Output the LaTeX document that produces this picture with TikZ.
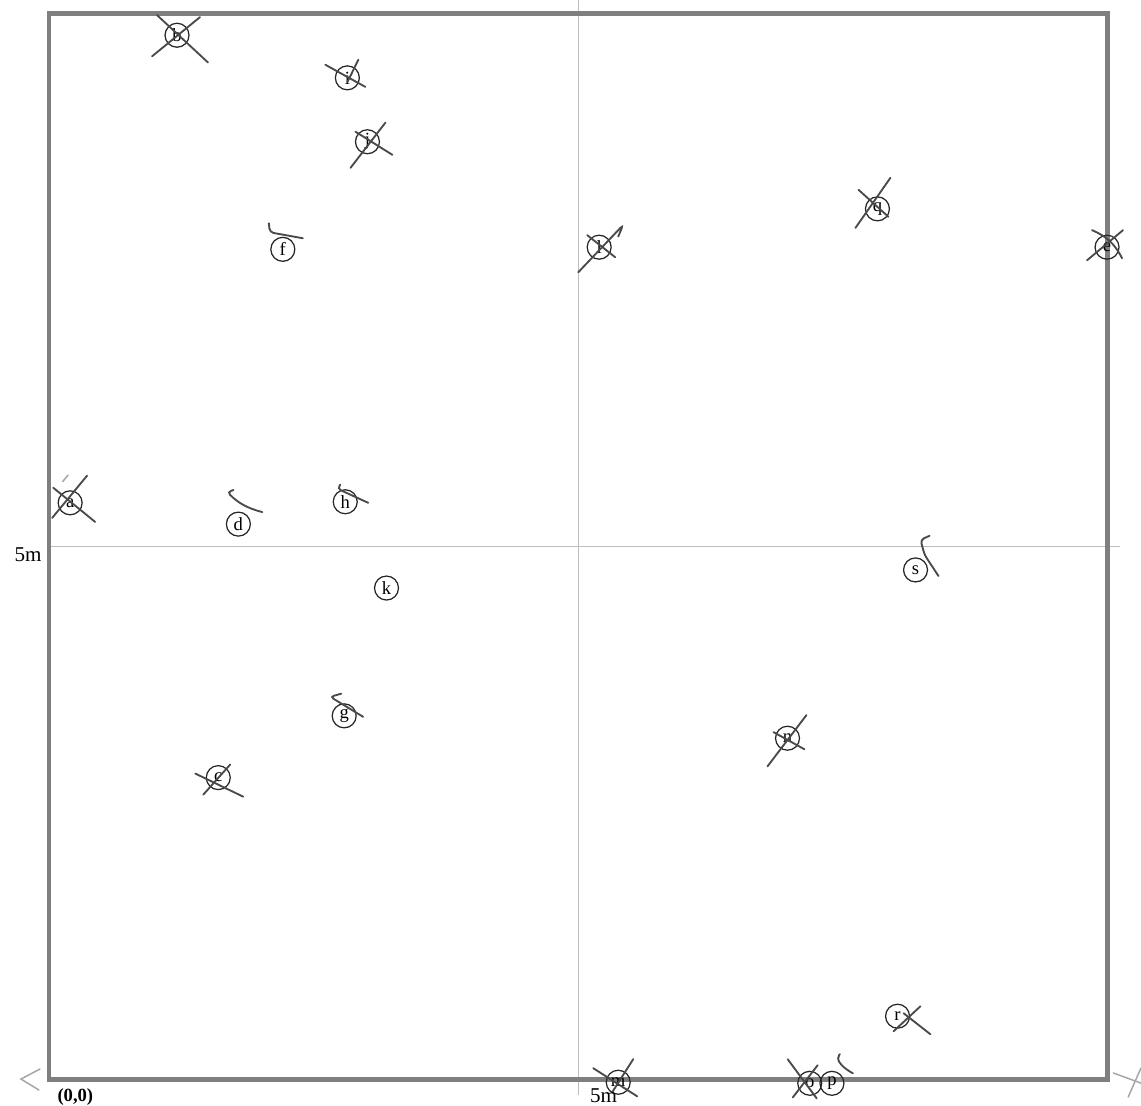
\documentclass[tikz,border=0pt]{standalone}
\usepackage{fontspec}
\setmainfont{Liberation Serif}
\usetikzlibrary{calc}
\definecolor{plgrey}{HTML}{7F7F7F}
\definecolor{plpen}{HTML}{4A4A4A}
\definecolor{plfaint}{HTML}{BDBDBD}

\begin{document}
\begin{tikzpicture}[
  x=1.5cm, y=1.51cm,
  frame/.style={draw=plgrey, line width=2pt},
  axis/.style={draw=plfaint, line width=0.4pt},
  pt/.style={circle, draw=black!85, line width=0.5pt, minimum size=3.4mm, inner sep=0pt,
             font=\fontsize{7.5}{8}\selectfont},
  pen/.style={draw=plpen, line width=0.75pt, line cap=round, rounded corners=1.5pt},
  faint/.style={draw=black!35, line width=0.6pt, line cap=round},
  lbl/.style={font=\fontsize{8.5}{10}\selectfont, inner sep=0pt},
]
\useasboundingbox (-0.463,-0.244) rectangle (10.321,10.131);

%% ---- Rahmen 10 m x 10 m und Mittellinien ----
\draw[axis] (5,-0.15) -- (5,10.131);
\draw[axis] (0,5) -- (10.12,5);
\draw[frame] (0,0) rectangle (10,10);

%% Ecken
\draw[faint] (-0.085,0.094) -- (-0.265,0) -- (-0.095,-0.103);
\draw[faint] (10.06,0.057) -- (10.32,-0.038);
\draw[faint] (10.20,-0.169) -- (10.32,0.103);

%% ---- Messpunkte ----
\node[pt] (b) at (1.21,9.80) {b};
\node[pt] (i) at (2.82,9.40) {i};
\node[pt] (j) at (3.01,8.80) {j};
\node[pt] (f) at (2.21,7.79) {f};
\node[pt] (l) at (5.20,7.81) {l};
\node[pt] (q) at (7.83,8.17) {q};
\node[pt] (e) at (10.0,7.81) {e};
\node[pt] (a) at (0.20,5.41) {a};
\node[pt] (d) at (1.79,5.21) {d};
\node[pt] (h) at (2.80,5.42) {h};
\node[pt] (k) at (3.19,4.61) {k};
\node[pt] (s) at (8.19,4.78) {s};
\node[pt] (g) at (2.79,3.41) {g};
\node[pt] (c) at (1.60,2.83) {c};
\node[pt] (n) at (6.98,3.20) {n};
\node[pt] (r) at (8.02,0.59) {r};
\node[pt] (m) at (5.38,-0.03) {m};
\node[pt] (o) at (7.19,-0.04) {o};
\node[pt] (p) at (7.40,-0.04) {p};

%% ---- Striche am Punkt ----
\draw[pen] ($(b)+(-0.236,-0.198)$) -- ($(b)+(0.217,0.170)$);
\draw[pen] ($(b)+(-0.189,0.189)$) -- ($(b)+(0.292,-0.255)$);
\draw[pen] ($(i)+(-0.208,0.123)$) -- ($(i)+(0.170,-0.085)$);
\draw[pen] ($(i)+(0,-0.04)$) -- ($(i)+(0.104,0.17)$);
\draw[pen] ($(j)+(-0.16,-0.245)$) -- ($(j)+(0.17,0.18)$);
\draw[pen] ($(j)+(-0.113,0.094)$) -- ($(j)+(0.236,-0.123)$);
\draw[pen] ($(f)+(-0.132,0.245)$) -- ($(f)+(-0.123,0.160)$) -- ($(f)+(0.189,0.104)$);
\draw[pen] ($(l)+(-0.198,-0.236)$) -- ($(l)+(0.226,0.208)$) -- ($(l)+(0.18,0.10)$);
\draw[pen] ($(l)+(-0.113,0.113)$) -- ($(l)+(0.151,-0.094)$);
\draw[pen] ($(q)+(-0.208,-0.179)$) -- ($(q)+(0.123,0.292)$);
\draw[pen] ($(q)+(-0.179,0.179)$) -- ($(q)+(0.104,-0.075)$);
\draw[pen] ($(e)+(-0.189,-0.123)$) -- ($(e)+(0.151,0.160)$);
\draw[pen] ($(e)+(-0.142,0.160)$) to[bend left=20] ($(e)+(0.142,-0.104)$);
\draw[pen] ($(a)+(-0.17,-0.142)$) -- ($(a)+(0.16,0.255)$);
\draw[pen] ($(a)+(-0.16,0.142)$) -- ($(a)+(0.236,-0.179)$);
\draw[faint] ($(a)+(-0.02,0.26)$) -- ($(a)+(-0.07,0.20)$);
\draw[pen] ($(d)+(-0.047,0.32)$) -- ($(d)+(-0.104,0.30)$) to[bend right=15] ($(d)+(0.226,0.113)$);
\draw[pen] ($(h)+(-0.047,0.16)$) -- ($(h)+(-0.075,0.123)$) -- ($(h)+(0.217,-0.01)$);
\draw[pen] ($(s)+(0.132,0.32)$) -- ($(s)+(0.047,0.283)$) -- ($(s)+(0.085,0.142)$) -- ($(s)+(0.217,-0.057)$);
\draw[pen] ($(g)+(-0.028,0.208)$) -- ($(g)+(-0.132,0.179)$) -- ($(g)+(0.179,-0.009)$);
\draw[pen] ($(c)+(-0.217,0.038)$) -- ($(c)+(0.236,-0.179)$);
\draw[pen] ($(c)+(-0.142,-0.16)$) -- ($(c)+(0.113,0.123)$);
\draw[pen] ($(n)+(-0.189,-0.264)$) -- ($(n)+(0.179,0.217)$);
\draw[pen] ($(n)+(-0.132,0.057)$) -- ($(n)+(0.16,-0.104)$);
\draw[pen] ($(r)+(0.217,0.094)$) -- ($(r)+(-0.038,-0.142)$);
\draw[pen] ($(r)+(0.057,0.028)$) -- ($(r)+(0.311,-0.17)$);
\draw[pen] ($(m)+(-0.236,0.132)$) -- ($(m)+(0.179,-0.132)$);
\draw[pen] ($(m)+(-0.057,-0.094)$) -- ($(m)+(0.142,0.217)$);
\draw[pen] ($(o)+(-0.208,0.226)$) -- ($(o)+(0.066,-0.142)$);
\draw[pen] ($(o)+(-0.16,-0.132)$) -- ($(o)+(0.075,0.17)$);
\draw[pen] ($(p)+(0.075,0.274)$) -- ($(p)+(0.047,0.236)$) to[bend right=15] ($(p)+(0.198,0.094)$);

%% ---- Beschriftung ----
\node[lbl, anchor=north east] (ylbl) at (-0.066,4.995) {5m};
\node[lbl, anchor=base west, font=\fontsize{7.5}{9}\selectfont\bfseries] (orig) at (0.076,-0.207) {(0,0)};
\node[lbl, anchor=base west] (xlbl) at (5.11,-0.216) {5m};

\end{tikzpicture}
\end{document}
